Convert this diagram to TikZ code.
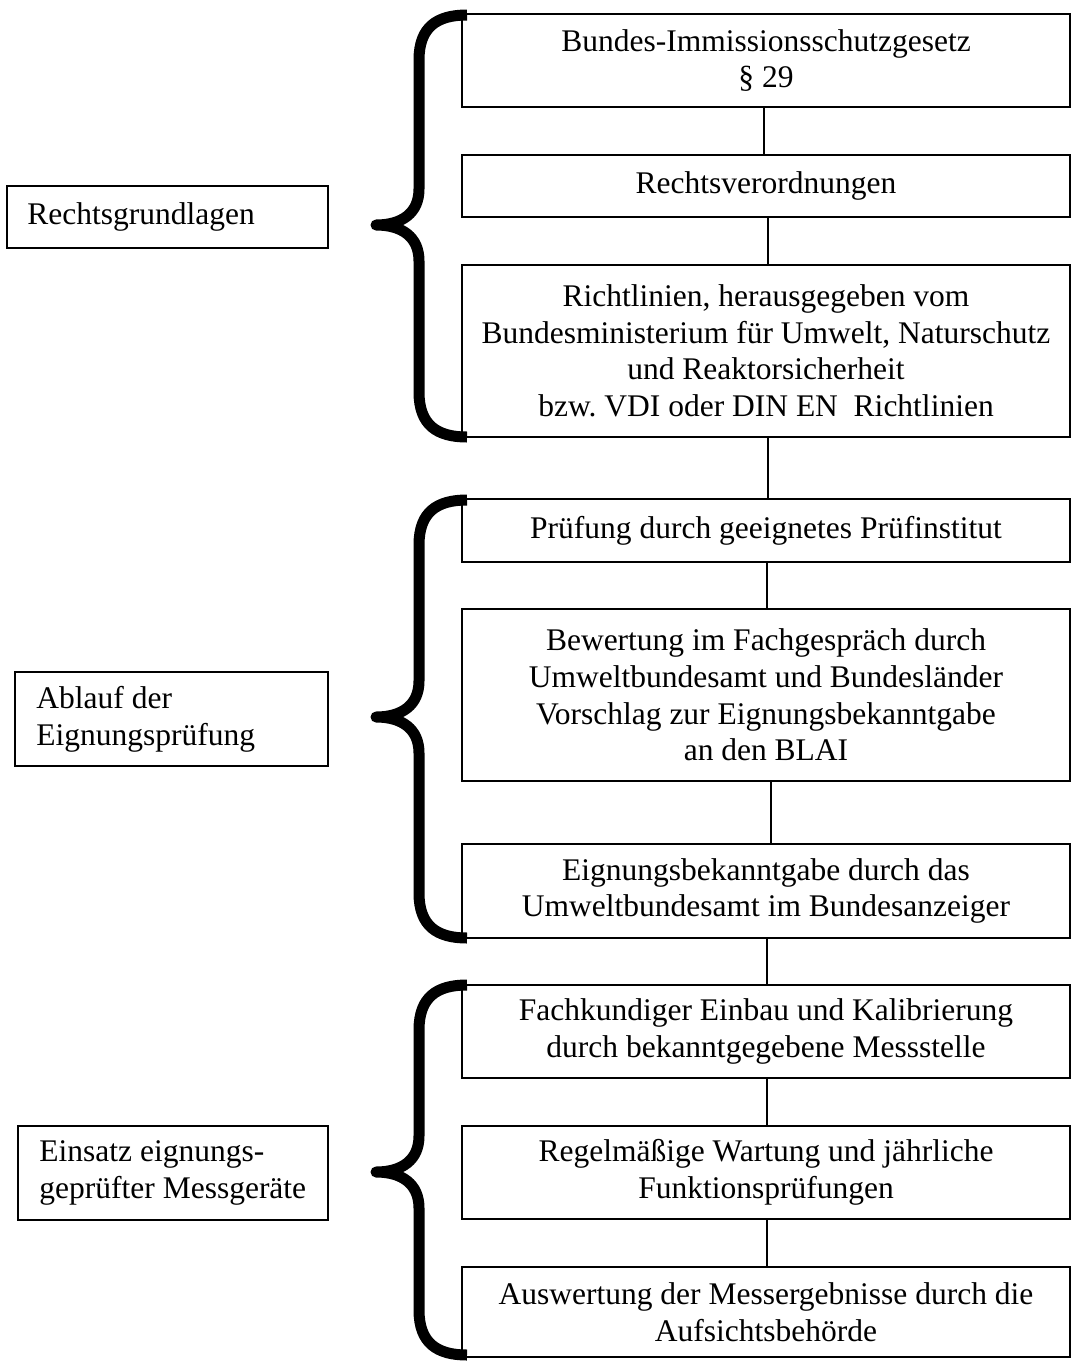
\documentclass[tikz,border=0pt]{standalone}
\usepackage{fontspec}
\setmainfont{Liberation Serif}
\frenchspacing
\begin{document}
\begin{tikzpicture}[x=1pt,y=-1pt,
  txt/.style={font=\fontsize{31.5}{36.6}\selectfont},
  rbox/.style={txt, draw, line width=1.5pt, minimum width=608pt, inner sep=0pt, align=center},
  lbox/.style={draw, line width=1.5pt, inner sep=0pt},
  ltext/.style={txt, inner sep=0pt, align=left, anchor=west},
  link/.style={line width=1.5pt},
  bracepath/.style={line width=11pt, line join=round, line cap=butt}
]
\useasboundingbox (0,0) rectangle (1071,1361);

% right column
\node[rbox, minimum height=93pt]  (b1) at (766,60.5)  {Bundes-Immissionsschutzgesetz\\\S~29};
\node[rbox, minimum height=62pt]  (b2) at (766,186)   {Rechtsverordnungen};
\node[rbox, minimum height=172pt] (b3) at (766,351)   {Richtlinien, herausgegeben vom\\Bundesministerium für Umwelt, Naturschutz\\und Reaktorsicherheit\\bzw. VDI oder DIN EN~ Richtlinien};
\node[rbox, minimum height=63pt]  (b4) at (766,530.5) {Prüfung durch geeignetes Prüfinstitut};
\node[rbox, minimum height=172pt] (b5) at (766,695)   {Bewertung im Fachgespräch durch\\Umweltbundesamt und Bundesländer\\Vorschlag zur Eignungsbekanntgabe\\an den BLAI};
\node[rbox, minimum height=94pt]  (b6) at (766,891)   {Eignungsbekanntgabe durch das\\Umweltbundesamt im Bundesanzeiger};
\node[rbox, minimum height=93pt]  (b7) at (766,1031.5){Fachkundiger Einbau und Kalibrierung\\durch bekanntgegebene Messstelle};
\node[rbox, minimum height=93pt]  (b8) at (766,1172.5){Regelmäßige Wartung und jährliche\\Funktionsprüfungen};
\node[rbox, minimum height=90pt]  (b9) at (766,1312)  {Auswertung der Messergebnisse durch die\\Aufsichtsbehörde};

\draw[link] ([xshift=-2pt]b1.south) -- ([xshift=-2pt]b2.north);
\draw[link] ([xshift=2pt]b2.south) -- ([xshift=2pt]b3.north);
\draw[link] ([xshift=2pt]b3.south) -- ([xshift=2pt]b4.north);
\draw[link] ([xshift=1pt]b4.south) -- ([xshift=1pt]b5.north);
\draw[link] ([xshift=5pt]b5.south) -- ([xshift=5pt]b6.north);
\draw[link] ([xshift=1pt]b6.south) -- ([xshift=1pt]b7.north);
\draw[link] ([xshift=1pt]b7.south) -- ([xshift=1pt]b8.north);
\draw[link] ([xshift=1pt]b8.south) -- ([xshift=1pt]b9.north);

% left column
\node[lbox, minimum width=321pt, minimum height=62pt] (l1) at (167.5,217) {};
\node[ltext] (t1) at ([xshift=21pt]l1.west) {Rechtsgrundlagen};
\node[lbox, minimum width=313pt, minimum height=94pt] (l2) at (171.5,719) {};
\node[ltext] (t2) at ([xshift=22pt]l2.west) {Ablauf der\\Eignungsprüfung};
\node[lbox, minimum width=310pt, minimum height=94pt] (l3) at (173,1173) {};
\node[ltext] (t3) at ([xshift=22pt]l3.west) {Einsatz eignungs-\\geprüfter Messgeräte};

% braces
\foreach \T/\M/\B in {15/225/437, 500/717/938, 985/1172/1355}{
  \draw[bracepath] (467,\T) .. controls (437,\T) and (419,{\T+12}) .. (419,{\T+45})
    -- (419,{\M-36}) .. controls (419,{\M-12}) and (402,\M) .. (376,\M)
    .. controls (402,\M) and (419,{\M+12}) .. (419,{\M+36})
    -- (419,{\B-45}) .. controls (419,{\B-12}) and (437,\B) .. (467,\B);
}
\end{tikzpicture}
\end{document}
